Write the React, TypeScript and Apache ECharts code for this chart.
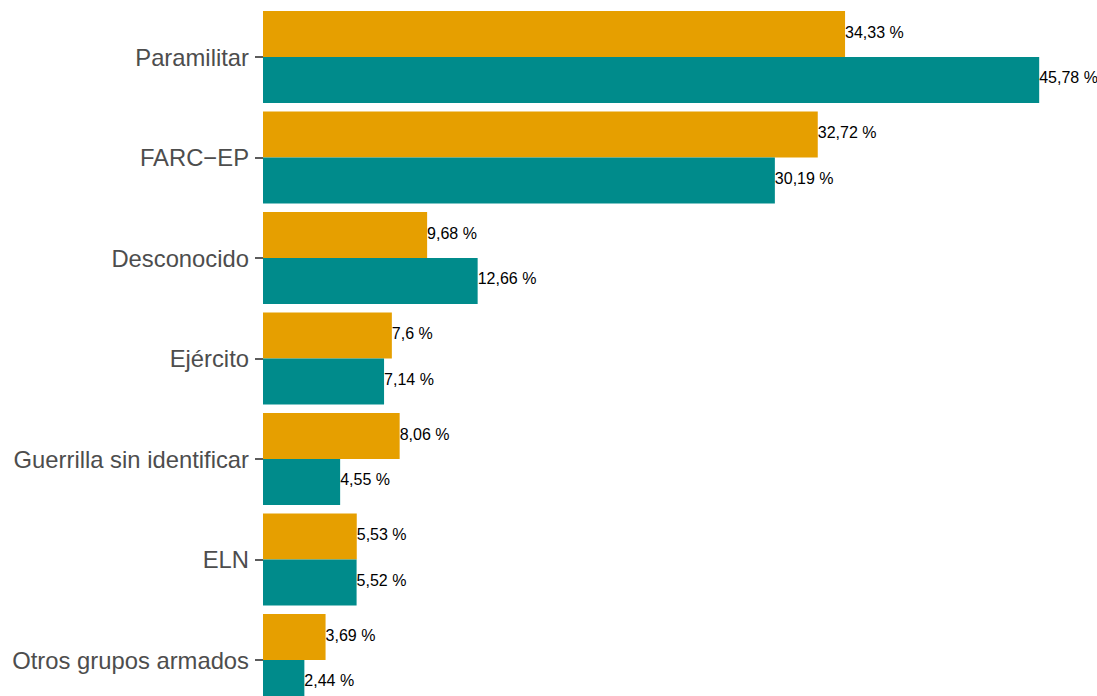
import React, { useEffect, useRef } from "react";
import * as echarts from "echarts";

const categories = [
  "Paramilitar",
  "FARC\u2212EP",
  "Desconocido",
  "Ejército",
  "Guerrilla sin identificar",
  "ELN",
  "Otros grupos armados",
];
const seriesOrangeValues = [34.33, 32.72, 9.68, 7.6, 8.06, 5.53, 3.69];
const seriesTealValues = [45.78, 30.19, 12.66, 7.14, 4.55, 5.52, 2.44];

const fmt = (v: number) => String(v).replace(".", ",") + " %";

export default function App() {
  const ref = useRef<HTMLDivElement>(null);
  useEffect(() => {
    if (!ref.current) return;
    const chart = echarts.init(ref.current, null, { renderer: "svg" });
    const label = {
      show: true,
      position: "right" as const,
      distance: 0,
      offset: [0, -2],
      color: "#000000",
      fontSize: 16,
      fontFamily: "Liberation Sans",
      formatter: (p: any) => fmt(p.value),
    };
    chart.setOption({
      animation: false,
      backgroundColor: "#ffffff",
      grid: { left: 263, right: 19, top: 6.75, bottom: 9.75, containLabel: false },
      xAxis: {
        type: "value",
        min: 0,
        max: 48.069,
        show: false,
      },
      yAxis: {
        type: "category",
        inverse: true,
        data: categories,
        axisLine: { show: false },
        axisTick: {
          show: true,
          length: 8,
          alignWithLabel: true,
          lineStyle: { color: "#333333", width: 1.6 },
        },
        axisLabel: {
          margin: 14,
          color: "#4d4d4d",
          fontSize: 23.8,
          fontFamily: "Liberation Sans",
        },
        splitLine: { show: false },
      },
      series: [
        {
          name: "Serie 1",
          type: "bar",
          data: seriesOrangeValues,
          itemStyle: { color: "#E69F00" },
          barGap: "0%",
          barCategoryGap: "8.5%",
          label,
        },
        {
          name: "Serie 2",
          type: "bar",
          data: seriesTealValues,
          itemStyle: { color: "#008B8B" },
          barGap: "0%",
          barCategoryGap: "8.5%",
          label,
        },
      ],
    });
    return () => chart.dispose();
  }, []);
  return (
    <div
      style={{ position: "absolute", left: 0, top: 0, width: 1097, height: 696, overflow: "hidden" }}
    >
      <div ref={ref} style={{ width: 1097, height: 720 }} />
    </div>
  );
}
